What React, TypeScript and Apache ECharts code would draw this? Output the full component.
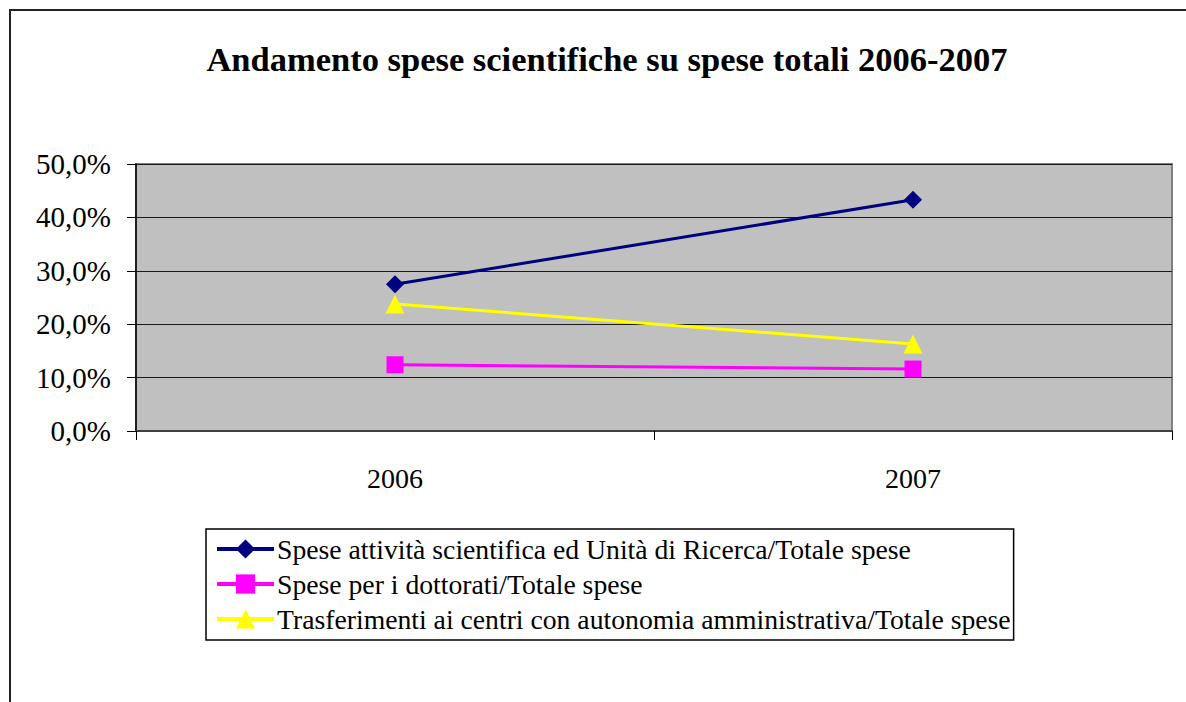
import React, { useEffect, useRef } from "react";
import * as echarts from "echarts";

const categories = ["2006", "2007"];
const seriesNames = [
  "Spese attività scientifica ed Unità di Ricerca/Totale spese",
  "Spese per i dottorati/Totale spese",
  "Trasferimenti ai centri con autonomia amministrativa/Totale spese",
];
const ricercaValues = [0.275, 0.433];
const dottoratiValues = [0.124, 0.116];
const trasferimentiValues = [0.238, 0.163];
const titleText = "Andamento spese scientifiche su spese totali 2006-2007";

const FONT = "Liberation Serif";

export default function App() {
  const ref = useRef<HTMLDivElement>(null);
  useEffect(() => {
    document.body.style.margin = "0";
    const chart = echarts.init(ref.current!, null, { renderer: "svg" });
    const mk = (name: string, data: number[], color: string, symbol: string, size: number) => ({
      name,
      type: "line",
      data,
      symbol,
      symbolSize: size,
      lineStyle: { color, width: 3 },
      itemStyle: { color },
      emphasis: { disabled: true },
    });
    chart.setOption({
      animation: false,
      backgroundColor: "#ffffff",
      textStyle: { fontFamily: FONT },
      title: {
        text: titleText,
        left: 602,
        top: 36,
        textAlign: "center",
        textStyle: { fontFamily: FONT, fontWeight: "bold", fontSize: 34.5, color: "#000" },
      },
      grid: {
        left: 136,
        right: 14,
        top: 164,
        bottom: 271,
        show: true,
        backgroundColor: "#C0C0C0",
        borderColor: "#808080",
        borderWidth: 2,
      },
      legend: {
        orient: "vertical",
        left: 206,
        top: 529,
        itemWidth: 57,
        itemHeight: 24,
        itemGap: 3,
        padding: [4, 3, 5, 9],
        borderColor: "#000",
        borderWidth: 1.5,
        backgroundColor: "#fff",
        selectedMode: false,
        lineStyle: { width: 4 },
        textStyle: { fontFamily: FONT, fontSize: 27.7, color: "#000", lineHeight: 32, padding: [0, 0, 0, -2] },
        data: seriesNames.map((n) => ({ name: n, lineStyle: { width: 4 } })),
      },
      xAxis: {
        type: "category",
        data: categories,
        boundaryGap: true,
        axisLine: { show: true, lineStyle: { color: "#404040", width: 2 } },
        axisTick: { show: true, length: 9, lineStyle: { color: "#000", width: 1 } },
        axisLabel: { fontFamily: FONT, fontSize: 28, color: "#000", margin: 33 },
        splitLine: { show: false },
      },
      yAxis: {
        type: "value",
        min: 0,
        max: 0.5,
        interval: 0.1,
        axisLine: { show: true, lineStyle: { color: "#000", width: 1.5 } },
        axisTick: { show: true, length: 9, lineStyle: { color: "#000", width: 1 } },
        axisLabel: {
          fontFamily: FONT,
          fontSize: 29,
          color: "#000",
          margin: 25,
          formatter: (v: number) => (v * 100).toFixed(1).replace(".", ",") + "%",
        },
        splitLine: { show: true, lineStyle: { color: "#1a1a1a", width: 1.2 } },
      },
      graphic: [
        { type: "line", shape: { x1: 9, y1: 10, x2: 1186, y2: 10 }, style: { stroke: "#222", lineWidth: 2 } },
        { type: "line", shape: { x1: 10, y1: 10, x2: 10, y2: 702 }, style: { stroke: "#222", lineWidth: 2 } },
      ],
      series: [
        mk(seriesNames[0], ricercaValues, "#000080", "diamond", 18),
        mk(seriesNames[1], dottoratiValues, "#FF00FF", "rect", 17),
        mk(seriesNames[2], trasferimentiValues, "#FFFF00", "triangle", 19),
      ],
    });
    return () => chart.dispose();
  }, []);
  return <div ref={ref} style={{ width: 1186, height: 702 }} />;
}
